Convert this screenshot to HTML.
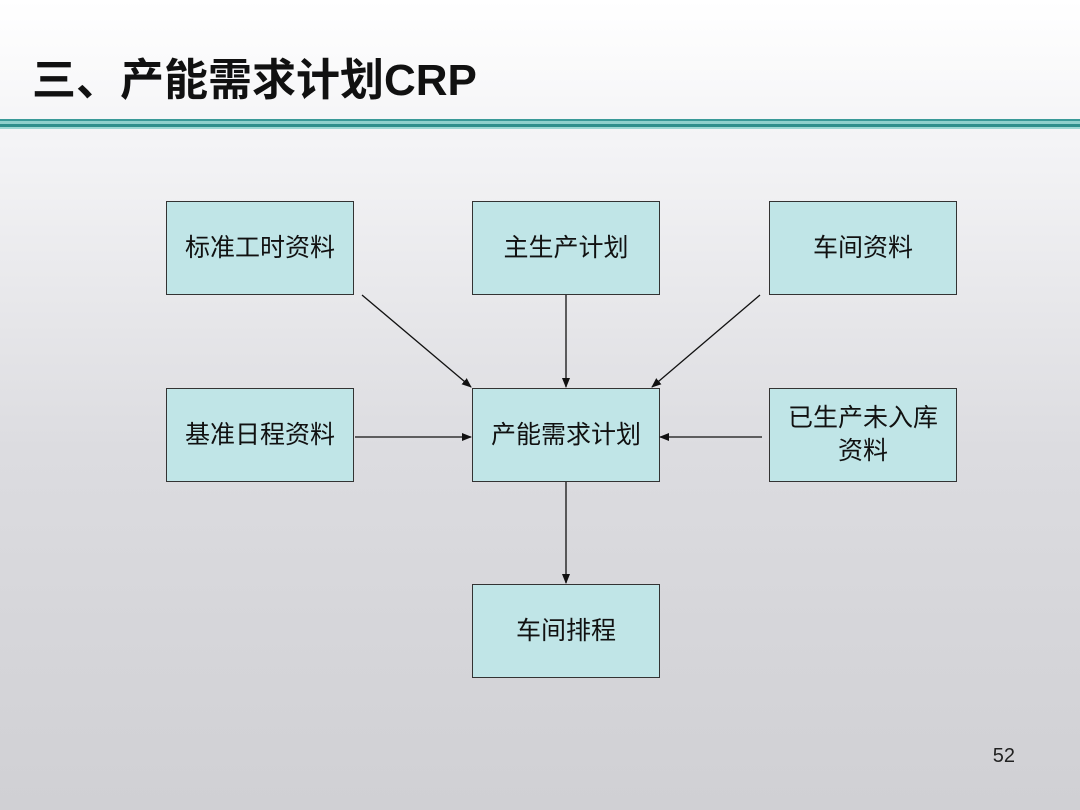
<!DOCTYPE html>
<html><head><meta charset="utf-8"><style>
body{margin:0;width:1080px;height:810px;overflow:hidden;background:linear-gradient(#ffffff 0px,#f4f4f6 140px,#dcdce0 450px,#d0d0d4 810px);font-family:"Liberation Sans","Noto Sans CJK SC",sans-serif;position:relative}
.t{position:absolute;left:32px;top:44px;font-size:44px;font-weight:bold;color:#111;font-family:"Liberation Sans","Noto Sans CJK SC",sans-serif;letter-spacing:0px}
.b{position:absolute;width:188px;height:94px;background:#c0e5e7;border:1px solid #333;box-sizing:border-box;display:flex;align-items:center;justify-content:center;text-align:center;font-size:25px;color:#111;line-height:33px}
</style></head><body>
<div class="t">三、产能需求计划CRP</div>
<div style="position:absolute;left:0;top:119px;width:1080px;height:2px;background:#3a9a98"></div>
<div style="position:absolute;left:0;top:121px;width:1080px;height:3px;background:#8fd0cc"></div>
<div style="position:absolute;left:0;top:124px;width:1080px;height:3px;background:#2f8f8c"></div>
<div style="position:absolute;left:0;top:127px;width:1080px;height:2px;background:#9ed8d4"></div>
<div class="b" style="left:166px;top:201px">标准工时资料</div>
<div class="b" style="left:472px;top:201px">主生产计划</div>
<div class="b" style="left:769px;top:201px">车间资料</div>
<div class="b" style="left:166px;top:388px">基准日程资料</div>
<div class="b" style="left:472px;top:388px">产能需求计划</div>
<div class="b" style="left:769px;top:388px">已生产未入库<br>资料</div>
<div class="b" style="left:472px;top:584px">车间排程</div>
<svg width="1080" height="810" style="position:absolute;left:0;top:0">
<defs><marker id="a" markerWidth="10" markerHeight="8" refX="9" refY="4" orient="auto" markerUnits="userSpaceOnUse"><path d="M0,0L10,4L0,8z" fill="#111"/></marker></defs>
<g stroke="#111" stroke-width="1.3" marker-end="url(#a)">
<line x1="362" y1="295" x2="471" y2="387"/>
<line x1="566" y1="295" x2="566" y2="387"/>
<line x1="760" y1="295" x2="652" y2="387"/>
<line x1="355" y1="437" x2="471" y2="437"/>
<line x1="762" y1="437" x2="660" y2="437"/>
<line x1="566" y1="482" x2="566" y2="583"/>
</g>
<text x="1015" y="762" font-size="20" text-anchor="end" fill="#222" font-family="Liberation Sans">52</text>
</svg>
</body></html>
